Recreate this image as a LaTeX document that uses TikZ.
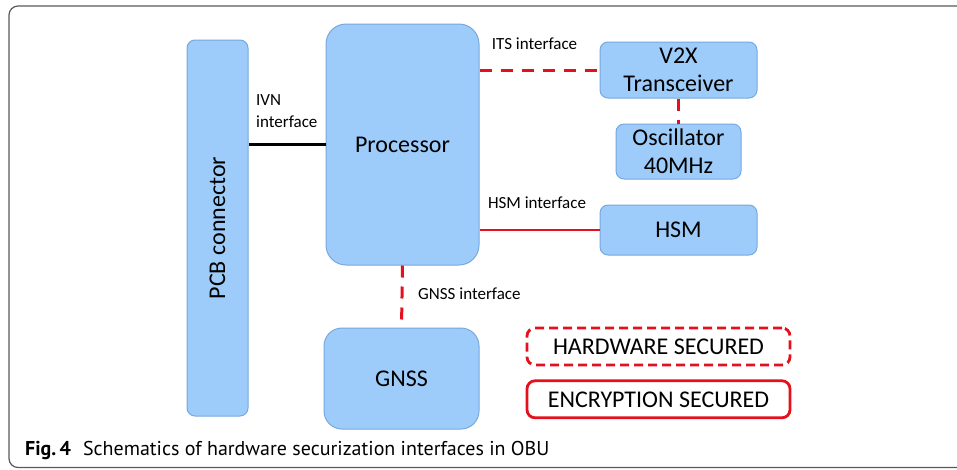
\documentclass[tikz,border=0pt]{standalone}
\usepackage{fontspec}
\setmainfont{Carlito}
\newfontfamily\capfont{PT Sans}
\usetikzlibrary{positioning}
\definecolor{boxblue}{RGB}{157,204,250}
\definecolor{boxedge}{RGB}{120,168,222}
\definecolor{secred}{RGB}{228,16,28}
\begin{document}
\begin{tikzpicture}[x=1pt, y=-1pt, line join=round,
	block/.style={draw=boxedge, line width=1pt, fill=boxblue, rounded corners=8pt, inner sep=0pt, align=center, font=\fontsize{24}{28}\selectfont},
	iface/.style={inner sep=0pt, font=\fontsize{17}{22}\selectfont},
	hwline/.style={draw=secred, line width=3pt, dash pattern=on 12pt off 9pt},
	encline/.style={draw=secred, line width=2.8pt},
	legendbox/.style={rounded corners=8pt, line width=2.8pt, minimum width=263pt, minimum height=37pt, inner sep=0pt, font=\fontsize{24}{28}\selectfont}]
	\useasboundingbox (0,0) rectangle (957,469);
	\clip (0,0) rectangle (957,469);
	% frame of the figure
	\draw[gray!70!black, line width=1.2pt, rounded corners=9pt] (9,6) rectangle (990,467.5);
	% blocks
	\node[block, rotate=90, minimum width=376pt, minimum height=61pt] (pcb) at (217.5,228) {PCB connector};
	\node[block, rounded corners=20pt, minimum width=153pt, minimum height=241pt] (proc) at (402.5,144.5) {Processor};
	\node[block, minimum width=157pt, minimum height=56pt] (v2x) at (678.5,70) {V2X\\Transceiver};
	\node[block, minimum width=125pt, minimum height=55pt] (osc) at (678.5,151.5) {Oscillator\\40MHz};
	\node[block, minimum width=157pt, minimum height=50pt] (hsm) at (678.5,230) {HSM};
	\node[block, rounded corners=18pt, minimum width=155pt, minimum height=101pt] (gnss) at (401.5,378.5) {GNSS};
	% interfaces
	\draw[line width=2.6pt] (proc.west) -- (proc.west -| pcb.south);
	\draw[hwline] (proc.east |- v2x.west) -- (v2x.west);
	\draw[hwline] (v2x.south) -- (osc.north);
	\draw[encline] (proc.east |- hsm.west) -- (hsm.west);
	\draw[hwline] (proc.south) -- (gnss.north);
	\node[iface, align=left, anchor=west] (ivnlab) at (256,111) {IVN\\interface};
	\node[iface] (itslab) at (534.5,44) {ITS interface};
	\node[iface] (hsmlab) at (537,203) {HSM interface};
	\node[iface, anchor=west] (gnsslab) at (418,294) {GNSS interface};
	% legend
	\node[legendbox, draw=secred, dash pattern=on 9pt off 5pt] (hwsec) at (658.5,346.5) {HARDWARE SECURED};
	\node[legendbox, draw=secred, below=13pt of hwsec] (encsec) {ENCRYPTION SECURED};
	% caption
	\node[anchor=base west, inner sep=0pt, font=\capfont\fontsize{20}{22}\selectfont] (caption) at (25,455) {\textbf{Fig.\,4}\hspace{0.6em}Schematics of hardware securization interfaces in OBU};
\end{tikzpicture}
\end{document}
